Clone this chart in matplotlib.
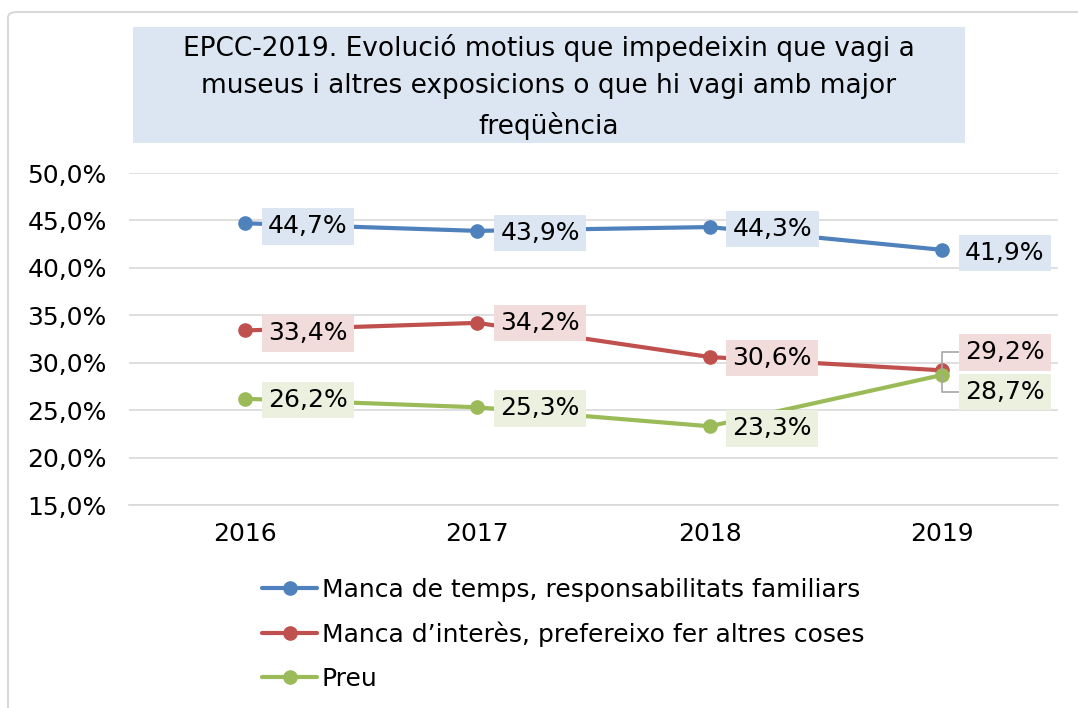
import matplotlib
matplotlib.use("Agg")
import matplotlib.pyplot as plt
from matplotlib.patches import Rectangle, FancyBboxPatch
from matplotlib.ticker import FuncFormatter, MultipleLocator

years = ["2016", "2017", "2018", "2019"]
temps = [44.7, 43.9, 44.3, 41.9]
interes = [33.4, 34.2, 30.6, 29.2]
preu = [26.2, 25.3, 23.3, 28.7]
names = ["Manca de temps, responsabilitats familiars",
         "Manca d\u2019interès, prefereixo fer altres coses",
         "Preu"]
title = ("EPCC-2019. Evolució motius que impedeixin que vagi a\n"
         "museus i altres exposicions o que hi vagi amb major\n"
         "freqüència")

colors = ["#4F81BD", "#C0504D", "#9BBB59"]
fills = ["#DCE6F2", "#F2DCDB", "#EBF1DE"]

plt.rcParams['font.family'] = ['DejaVu Sans']
W, H = 1078, 708
fig = plt.figure(figsize=(W / 100, H / 100), dpi=100)

# outer chart border (runs off the right and bottom edges)
fig.patches.append(FancyBboxPatch((8 / W, -0.5), 1.2, (H - 12) / H + 0.5,
                                  boxstyle="round,pad=0,rounding_size=0.008",
                                  transform=fig.transFigure, fill=False,
                                  edgecolor="#D9D9D9", linewidth=1.5))

ax = fig.add_axes([129 / W, (H - 505) / H, (1058 - 129) / W, (505 - 173) / H])

x = list(range(len(years)))
series = [temps, interes, preu]
for vals, c, name in zip(series, colors, names):
    ax.plot(x, vals, color=c, linewidth=3, marker="o", markersize=9.5, label=name,
            solid_capstyle="round")

# data labels: (dx, dy) in pixels
offsets = [
    [(23, -3), (23, -2), (23, -2), (23, -3)],
    [(23, -3), (23, 0), (23, -1), (23, 18)],
    [(23, -1), (23, -1), (23, -2), (23, -17)],
]
for si, (vals, fc) in enumerate(zip(series, fills)):
    for i, v in enumerate(vals):
        dx, dy = offsets[si][i]
        txt = f"{v:.1f}%".replace(".", ",")
        kw = {}
        if i == 3 and si in (1, 2):
            kw["arrowprops"] = dict(arrowstyle="-", color="#A6A6A6", lw=1.2,
                                    shrinkA=0, shrinkB=0,
                                    connectionstyle="angle,angleA=0,angleB=90,rad=0")
        ax.annotate(txt, (i, v), xytext=(dx, dy), textcoords="offset pixels",
                    ha="left", va="center", fontsize=18, color="black",
                    bbox=dict(boxstyle="square,pad=0.25", fc=fc, ec="none"),
                    zorder=5, **kw)

ax.set_xlim(-0.5, 3.5)
ax.set_ylim(15, 50)
ax.yaxis.set_major_locator(MultipleLocator(5))
ax.yaxis.set_major_formatter(FuncFormatter(lambda v, p: f"{v:.1f}%".replace(".", ",")))
ax.set_xticks(x)
ax.set_xticklabels(years)
ax.tick_params(axis="both", length=0, labelsize=18)
ax.tick_params(axis="y", pad=16)
ax.tick_params(axis="x", pad=12)
ax.grid(axis="y", color="#D9D9D9", linewidth=1.2)
ax.set_axisbelow(True)
for s in ["left", "right", "top"]:
    ax.spines[s].set_visible(False)
ax.spines["bottom"].set_color("#D9D9D9")
ax.spines["bottom"].set_linewidth(1.2)

# title box
fig.patches.append(Rectangle((133 / W, (H - 143) / H), (965 - 133) / W, (143 - 27) / H,
                             transform=fig.transFigure, facecolor="#DCE6F2", edgecolor="none"))
fig.text(549 / W, (H - 87) / H, title, ha="center", va="center", fontsize=19,
         linespacing=1.55)

leg = ax.legend(loc="upper left", bbox_to_anchor=(262 / W, (H - 578) / H),
                bbox_transform=fig.transFigure, frameon=False, fontsize=18,
                handlelength=2.2, handletextpad=0.2, labelspacing=0.78,
                borderpad=0, borderaxespad=0)

fig.savefig("out.png", dpi=100)
